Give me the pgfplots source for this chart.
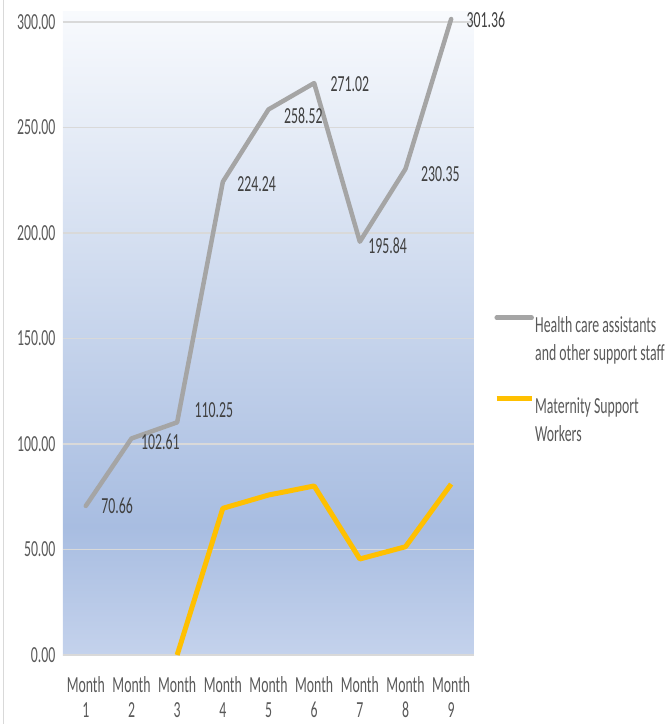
\documentclass[border=0pt]{standalone}
\usepackage{pgfplots}
\pgfplotsset{compat=1.18}
\usepackage{pgfplotstable}
\usepackage{fontspec}
\setmainfont{Carlito}[FakeStretch=0.6]
\definecolor{hcgray}{HTML}{A5A5A5}
\definecolor{msyellow}{HTML}{FFC000}
\definecolor{ticktxt}{HTML}{595959}
\definecolor{lbltxt}{HTML}{404040}
\definecolor{gridc}{HTML}{D9D9D9}
\definecolor{bgt}{HTML}{F8FAFD}
\definecolor{bgm}{HTML}{A8BDE1}
\definecolor{bgb}{HTML}{C4D2EC}
\pgfdeclareverticalshading{plotbg}{100bp}{color(0bp)=(bgb); color(25bp)=(bgb); color(35bp)=(bgm); color(75bp)=(bgt); color(100bp)=(bgt)}

\pgfplotstableread{
x y dx dy
1 70.66 10 0
2 102.61 4 -3
3 110.25 12 12
4 224.24 9 -2
5 258.52 10 -6
6 271.02 11 -1
7 195.84 3 -4
8 230.35 10 -5
9 301.36 10 -1
}\hcdata

\pgfplotstableread{
x y
3 0
4 69.5
5 75.8
6 80.1
7 45.5
8 51.3
9 81
}\msdata

\begin{document}
\begin{tikzpicture}[font=\fontsize{23}{28}\selectfont]
\begin{axis}[
  scale only axis, width=411pt, height=643pt,
  xmin=0.5, xmax=9.5, ymin=0, ymax=304.7,
  xtick={1,...,9},
  xticklabels={{Month\\[-3pt]1},{Month\\[-3pt]2},{Month\\[-3pt]3},{Month\\[-3pt]4},{Month\\[-3pt]5},{Month\\[-3pt]6},{Month\\[-3pt]7},{Month\\[-3pt]8},{Month\\[-3pt]9}},
  xticklabel style={align=center, text=ticktxt, yshift=-18pt},
  ytick={0,50,...,300},
  yticklabel={\pgfmathprintnumber[fixed,fixed zerofill,precision=2]{\tick}},
  yticklabel style={text=ticktxt, xshift=-4pt},
  /pgf/number format/assume math mode=true,
  ymajorgrids, grid style={gridc, line width=1.5pt},
  axis line style={draw=none},
  major tick length=0pt,
  axis background/.style={shading=plotbg},
  clip=false,
  legend style={at={(1,0.535)}, anchor=north west, xshift=20pt, draw=none, fill=none,
     text=ticktxt, row sep=56pt, inner sep=0pt, nodes={inner xsep=1pt}},
  legend cell align=left,
  legend image code/.code={\draw[#1] (0pt,6pt) -- (35pt,6pt);},
]
\addplot[hcgray, line width=4.5pt, line join=round, line cap=round,
  visualization depends on={\thisrow{dx} \as \dxv},
  visualization depends on={\thisrow{dy} \as \dyv},
  nodes near coords={\pgfmathprintnumber[fixed,fixed zerofill,precision=2]{\pgfplotspointmeta}},
  point meta=explicit,
  nodes near coords style={anchor=west, text=lbltxt, xshift=\dxv pt, yshift=\dyv pt, /pgf/number format/assume math mode=true}]
  table[x=x, y=y, meta=y] {\hcdata};
\addlegendentry{\begin{tabular}[t]{@{}l@{}}Health care assistants\\and other support staff\end{tabular}}
\addplot[msyellow, line width=5pt, line join=round]
  table[x=x, y=y] {\msdata};
\addlegendentry{\begin{tabular}[t]{@{}l@{}}Maternity Support\\Workers\end{tabular}}
\end{axis}
\path (current axis.south west) ++(-63pt,-69pt) coordinate (BL);
\path (current axis.north east) ++(191pt,12pt) coordinate (TR);
\draw[gray!30, line width=1pt] ([xshift=4pt]BL) -- ([xshift=4pt]BL |- TR);
\pgfresetboundingbox
\useasboundingbox (BL) rectangle (TR);
\end{tikzpicture}
\end{document}
